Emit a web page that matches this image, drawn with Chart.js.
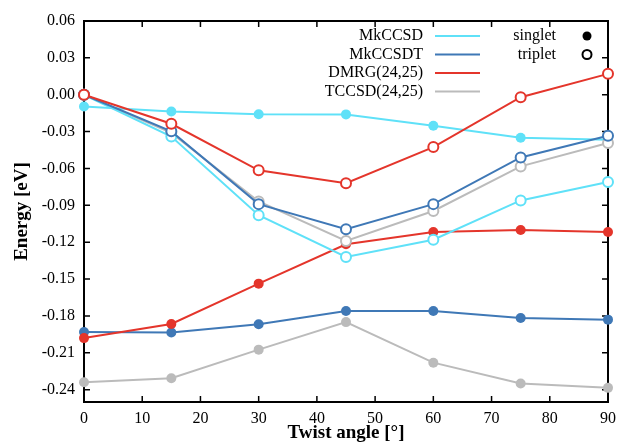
<!DOCTYPE html>
<html>
<head>
<meta charset="utf-8">
<script src="https://cdn.jsdelivr.net/npm/chart.js@4"></script>
<style>
  body { margin: 0; background: #fff; }
  #wrap { width: 623px; height: 443px; }
</style>
</head>
<body>
<div id="wrap"><canvas id="energyChart"></canvas></div>
<script>
// Twist angles (degrees)
const angles = [0, 15, 30, 45, 60, 75, 90];

// Energies in eV, singlet = filled markers, triplet = open markers
const mkccsdSinglet = [-0.0095, -0.0136, -0.0158, -0.016, -0.0252, -0.035, -0.0366];
const mkccsdTriplet = [0, -0.034, -0.098, -0.132, -0.118, -0.086, -0.071];
const mkccsdtSinglet = [-0.193, -0.1935, -0.1867, -0.176, -0.176, -0.1816, -0.183];
const mkccsdtTriplet = [0, -0.0298, -0.089, -0.1095, -0.089, -0.051, -0.0333];
const dmrgSinglet = [-0.198, -0.1865, -0.1537, -0.1217, -0.1117, -0.110, -0.1117];
const dmrgTriplet = [0, -0.0236, -0.0615, -0.072, -0.0426, -0.002, 0.017];
const tccsdSinglet = [-0.234, -0.2307, -0.2074, -0.185, -0.218, -0.235, -0.2385];
const tccsdTriplet = [0, -0.031, -0.0868, -0.119, -0.0946, -0.0583, -0.0393];

// Axis ticks
const yTicks = [-0.24, -0.21, -0.18, -0.15, -0.12, -0.09, -0.06, -0.03, 0.00, 0.03, 0.06];
const xTicks = [0, 10, 20, 30, 40, 50, 60, 70, 80, 90];

const methods = ['MkCCSD', 'MkCCSDT', 'DMRG(24,25)', 'TCCSD(24,25)'];
const colors = {
    'MkCCSD': '#5fe1f8',
    'MkCCSDT': '#3f78b6',
    'DMRG(24,25)': '#e4352b',
    'TCCSD(24,25)': '#bbbbbb'
};

const SERIF = '"Liberation Serif", "DejaVu Serif", serif';

function points(values) {
    return angles.map((a, i) => ({ x: a, y: values[i] }));
}

function series(name, values, open) {
    return {
        label: name + (open ? ' triplet' : ' singlet'),
        data: points(values),
        borderColor: colors[name],
        borderWidth: 2,
        pointRadius: 5,
        pointBorderWidth: open ? 2 : 0,
        pointBackgroundColor: open ? '#ffffff' : colors[name],
        pointBorderColor: colors[name],
        tension: 0,
        clip: false
    };
}

// first dataset ends up on top
const datasets = [
    series('DMRG(24,25)', dmrgTriplet, true),
    series('MkCCSDT', mkccsdtTriplet, true),
    series('MkCCSD', mkccsdTriplet, true),
    series('TCCSD(24,25)', tccsdTriplet, true),
    series('DMRG(24,25)', dmrgSinglet, false),
    series('MkCCSDT', mkccsdtSinglet, false),
    series('MkCCSD', mkccsdSinglet, false),
    series('TCCSD(24,25)', tccsdSinglet, false)
];

// Frame with inward ticks on all four sides
const framePlugin = {
    id: 'frame',
    beforeDatasetsDraw(chart) {
        const { ctx, chartArea: { left, right, top, bottom }, scales: { x, y } } = chart;
        ctx.save();
        ctx.strokeStyle = '#000';
        ctx.lineWidth = 1.5;
        ctx.beginPath();
        xTicks.forEach(t => {
            const px = x.getPixelForValue(t);
            ctx.moveTo(px, bottom); ctx.lineTo(px, bottom - 6);
            ctx.moveTo(px, top); ctx.lineTo(px, top + 6);
        });
        yTicks.forEach(t => {
            const py = y.getPixelForValue(t);
            ctx.moveTo(left, py); ctx.lineTo(left + 6, py);
            ctx.moveTo(right, py); ctx.lineTo(right - 6, py);
        });
        ctx.stroke();
        ctx.lineWidth = 2;
        ctx.strokeRect(left, top, right - left, bottom - top);
        ctx.restore();
    }
};

// Two-part key: line colours per method, marker style per spin state
const keyPlugin = {
    id: 'key',
    afterDatasetsDraw(chart) {
        const ctx = chart.ctx;
        ctx.save();
        ctx.font = '16px ' + SERIF;
        ctx.textAlign = 'right';
        ctx.textBaseline = 'middle';
        ctx.fillStyle = '#000';
        methods.forEach((m, i) => {
            const ry = 36 + i * 18.5;
            ctx.fillText(m, 423, ry);
            ctx.strokeStyle = colors[m];
            ctx.lineWidth = 2;
            ctx.beginPath();
            ctx.moveTo(435, ry);
            ctx.lineTo(480, ry);
            ctx.stroke();
        });
        ctx.fillText('singlet', 556, 36);
        ctx.fillText('triplet', 556, 54.5);
        ctx.beginPath();
        ctx.arc(587, 36, 4.5, 0, Math.PI * 2);
        ctx.fill();
        ctx.beginPath();
        ctx.arc(587, 54.5, 4.5, 0, Math.PI * 2);
        ctx.strokeStyle = '#000';
        ctx.lineWidth = 2;
        ctx.stroke();
        ctx.restore();
    }
};

new Chart(document.getElementById('energyChart'), {
    type: 'line',
    data: { datasets: datasets },
    options: {
        responsive: true,
        maintainAspectRatio: false,
        animation: false,
        layout: {
            padding: { top: 21, right: 11, left: 0, bottom: 0 }
        },
        plugins: {
            legend: { display: false },
            tooltip: { enabled: false }
        },
        scales: {
            x: {
                type: 'linear',
                min: 0,
                max: 90,
                grid: { display: false, drawTicks: false },
                border: { display: false },
                afterBuildTicks: scale => { scale.ticks = xTicks.map(v => ({ value: v })); },
                afterFit: scale => { scale.height = 41; },
                ticks: {
                    color: '#000',
                    font: { family: SERIF, size: 16 },
                    padding: 7,
                    maxRotation: 0
                },
                title: {
                    display: true,
                    text: 'Twist angle [°]',
                    color: '#000',
                    font: { family: SERIF, size: 19, weight: 'bold' },
                    padding: { top: 0, bottom: -1 }
                }
            },
            y: {
                min: -0.25,
                max: 0.06,
                grid: { display: false, drawTicks: false },
                border: { display: false },
                afterBuildTicks: scale => { scale.ticks = yTicks.map(v => ({ value: v })); },
                afterFit: scale => { scale.width = 84; },
                ticks: {
                    color: '#000',
                    font: { family: SERIF, size: 16 },
                    padding: 9,
                    callback: v => v.toFixed(2)
                },
                title: {
                    display: true,
                    text: 'Energy [eV]',
                    color: '#000',
                    font: { family: SERIF, size: 19, weight: 'bold' },
                    padding: { top: 11, bottom: 0 }
                }
            }
        }
    },
    plugins: [framePlugin, keyPlugin]
});
</script>
</body>
</html>
